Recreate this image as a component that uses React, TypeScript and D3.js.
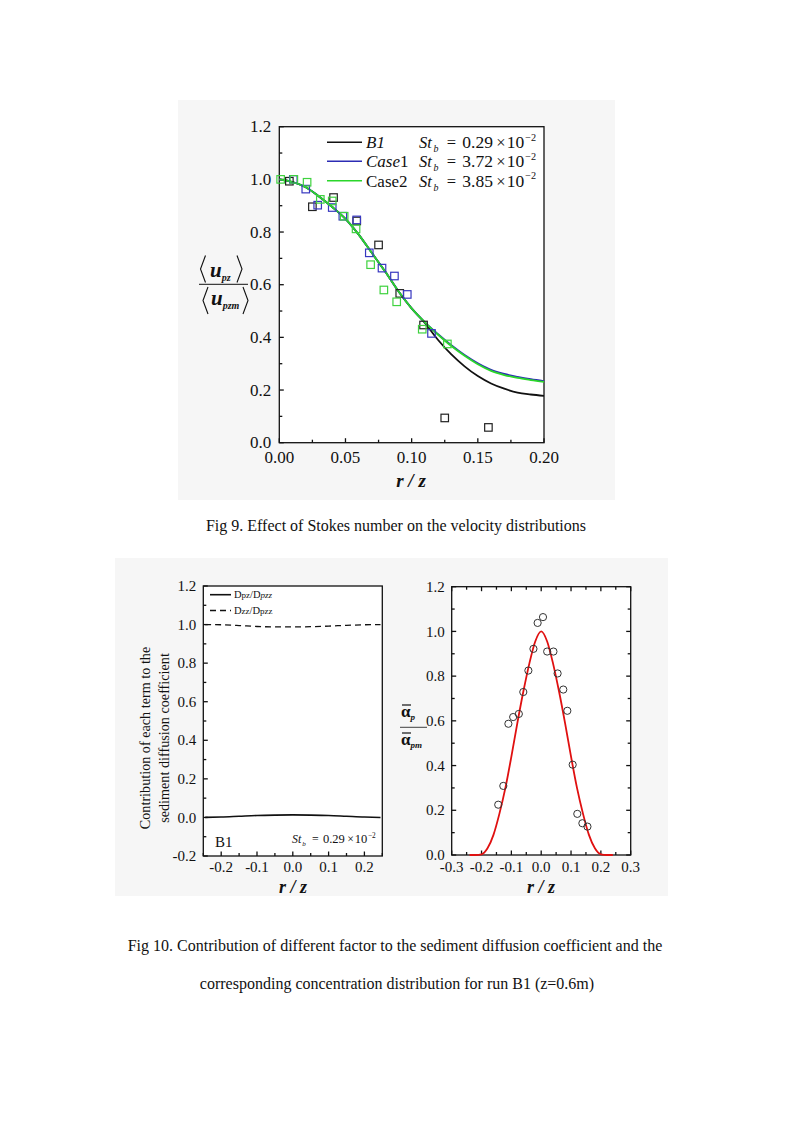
import * as d3 from "d3";

const W = 793;
const H = 1122;
const serif = "'Liberation Serif', 'Times New Roman', serif";

// ---------- Fig 9 data ----------
const fig9R = [0, 0.01, 0.02, 0.03, 0.04, 0.05, 0.06, 0.07, 0.08, 0.09, 0.1, 0.11, 0.12, 0.13, 0.14, 0.15, 0.16, 0.17, 0.18, 0.19, 0.2];
const b1Line = [1.0, 0.99, 0.97, 0.935, 0.895, 0.85, 0.79, 0.72, 0.65, 0.575, 0.51, 0.455, 0.39, 0.335, 0.29, 0.253, 0.225, 0.205, 0.19, 0.183, 0.178];
const case1Line = [1.0, 0.99, 0.97, 0.935, 0.895, 0.85, 0.79, 0.72, 0.65, 0.575, 0.51, 0.457, 0.412, 0.37, 0.333, 0.302, 0.277, 0.261, 0.25, 0.241, 0.234];
const case2Line = [1.0, 0.99, 0.97, 0.935, 0.895, 0.85, 0.79, 0.72, 0.65, 0.575, 0.51, 0.457, 0.41, 0.367, 0.33, 0.298, 0.273, 0.257, 0.246, 0.238, 0.231];

const b1PtsR = [0.0076, 0.025, 0.041, 0.0585, 0.075, 0.091, 0.109, 0.125, 0.158];
const b1PtsV = [0.993, 0.896, 0.931, 0.842, 0.751, 0.567, 0.447, 0.094, 0.058];
const case1PtsR = [0.0106, 0.02, 0.029, 0.04, 0.048, 0.0585, 0.068, 0.0776, 0.087, 0.0967, 0.115];
const case1PtsV = [1.0, 0.963, 0.902, 0.893, 0.86, 0.846, 0.721, 0.663, 0.633, 0.563, 0.415];
const case2PtsR = [0.001, 0.011, 0.021, 0.031, 0.04, 0.049, 0.058, 0.069, 0.079, 0.0887, 0.108, 0.127];
const case2PtsV = [1.0, 1.0, 0.989, 0.924, 0.918, 0.86, 0.812, 0.676, 0.58, 0.535, 0.431, 0.375];

const fig9XTicks = [0, 0.05, 0.1, 0.15, 0.2];
const fig9XLabels = ["0.00", "0.05", "0.10", "0.15", "0.20"];
const fig9YTicks = [0, 0.2, 0.4, 0.6, 0.8, 1.0, 1.2];
const fig9YLabels = ["0.0", "0.2", "0.4", "0.6", "0.8", "1.0", "1.2"];

// ---------- Fig 10 left data ----------
const contribR = [-0.245, -0.2, -0.15, -0.1, -0.05, 0, 0.05, 0.1, 0.15, 0.2, 0.245];
const dpzRatio = [0.0, 0.002, 0.006, 0.01, 0.012, 0.013, 0.012, 0.01, 0.006, 0.002, 0.0];
const dzzRatio = [1.0, 0.999, 0.995, 0.99, 0.988, 0.988, 0.989, 0.992, 0.996, 0.999, 1.0];
const leftXTicks = [-0.2, -0.1, 0, 0.1, 0.2];
const leftXLabels = ["-0.2", "-0.1", "0.0", "0.1", "0.2"];
const leftYTicks = [-0.2, 0, 0.2, 0.4, 0.6, 0.8, 1.0, 1.2];
const leftYLabels = ["-0.2", "0.0", "0.2", "0.4", "0.6", "0.8", "1.0", "1.2"];

// ---------- Fig 10 right data ----------
const fitR = [-0.24, -0.22, -0.2, -0.18, -0.16, -0.14, -0.12, -0.1, -0.08, -0.06, -0.04, -0.02, 0, 0.02, 0.04, 0.06, 0.08, 0.1, 0.12, 0.14, 0.16, 0.18, 0.2, 0.22, 0.24];
const fitV = [0, 0, 0.003, 0.03, 0.09, 0.185, 0.3, 0.44, 0.59, 0.73, 0.855, 0.955, 1.0, 0.955, 0.855, 0.73, 0.59, 0.44, 0.3, 0.185, 0.09, 0.03, 0.003, 0, 0];
const alphaR = [-0.144, -0.127, -0.11, -0.094, -0.075, -0.06, -0.043, -0.026, -0.012, 0.006, 0.02, 0.041, 0.055, 0.074, 0.0876, 0.1055, 0.121, 0.138, 0.155];
const alphaV = [0.225, 0.309, 0.587, 0.617, 0.631, 0.729, 0.825, 0.922, 1.038, 1.064, 0.91, 0.91, 0.812, 0.74, 0.645, 0.404, 0.184, 0.142, 0.127];
const rightXTicks = [-0.3, -0.2, -0.1, 0, 0.1, 0.2, 0.3];
const rightXLabels = ["-0.3", "-0.2", "-0.1", "0.0", "0.1", "0.2", "0.3"];
const rightYTicks = [0, 0.2, 0.4, 0.6, 0.8, 1.0, 1.2];
const rightYLabels = ["0.0", "0.2", "0.4", "0.6", "0.8", "1.0", "1.2"];

// scales
const x9 = d3.scaleLinear([0, 0.2], [279.3, 544]);
const y9 = d3.scaleLinear([0, 1.2], [442.7, 126.7]);
const xL = d3.scaleLinear([-0.25, 0.25], [203.3, 382.3]);
const yL = d3.scaleLinear([-0.2, 1.2], [856, 586]);
const xR = d3.scaleLinear([-0.3, 0.3], [451.7, 630.7]);
const yR = d3.scaleLinear([0, 1.2], [855, 586.7]);

type Sc = d3.ScaleLinear<number, number>;

function Frame({ x, y, xMajor, xLabels, xStep, yMajor, yLabels, yStep, mirror, fs, xLabelY, yLabelGap }: {
  x: Sc; y: Sc; xMajor: number[]; xLabels: string[]; xStep: number; yMajor: number[]; yLabels: string[]; yStep: number;
  mirror: boolean; fs: number; xLabelY: number; yLabelGap: number;
}) {
  const [x0, x1] = x.range();
  const [y0, y1] = y.range();
  const [dx0, dx1] = x.domain();
  const [dy0, dy1] = y.domain();
  const xMinor = d3.range(Math.round((dx1 - dx0) / xStep) + 1).map((i) => dx0 + i * xStep).filter((v) => !xMajor.some((m) => Math.abs(m - v) < 1e-9));
  const yMinor = d3.range(Math.round((dy1 - dy0) / yStep) + 1).map((i) => dy0 + i * yStep).filter((v) => !yMajor.some((m) => Math.abs(m - v) < 1e-9));
  const maj = 4.5;
  const mn = 3;
  return (
    <g stroke="#111" strokeWidth={1.3}>
      {xMajor.map((v) => <line key={"xM" + v} x1={x(v)} x2={x(v)} y1={y0} y2={y0 - maj} />)}
      {xMinor.map((v) => <line key={"xm" + v} x1={x(v)} x2={x(v)} y1={y0} y2={y0 - mn} />)}
      {yMajor.map((v) => <line key={"yM" + v} x1={x0} x2={x0 + maj} y1={y(v)} y2={y(v)} />)}
      {yMinor.map((v) => <line key={"ym" + v} x1={x0} x2={x0 + mn} y1={y(v)} y2={y(v)} />)}
      {mirror && xMajor.map((v) => <line key={"txM" + v} x1={x(v)} x2={x(v)} y1={y1} y2={y1 + maj} />)}
      {mirror && xMinor.map((v) => <line key={"txm" + v} x1={x(v)} x2={x(v)} y1={y1} y2={y1 + mn} />)}
      {mirror && yMajor.map((v) => <line key={"ryM" + v} x1={x1} x2={x1 - maj} y1={y(v)} y2={y(v)} />)}
      {mirror && yMinor.map((v) => <line key={"rym" + v} x1={x1} x2={x1 - mn} y1={y(v)} y2={y(v)} />)}
      <rect x={x0} y={y1} width={x1 - x0} height={y0 - y1} fill="none" />
      <g stroke="none" fill="#111" fontFamily={serif} fontSize={fs}>
        {xMajor.map((v, i) => (
          <text key={"xl" + v} x={x(v)} y={xLabelY} textAnchor="middle">{xLabels[i]}</text>
        ))}
        {yMajor.map((v, i) => (
          <text key={"yl" + v} x={x0 - yLabelGap} y={y(v)} dy="0.34em" textAnchor="end">{yLabels[i]}</text>
        ))}
      </g>
    </g>
  );
}

function Square({ cx, cy, color }: { cx: number; cy: number; color: string }) {
  const s = 7.5;
  return <rect x={cx - s / 2} y={cy - s / 2} width={s} height={s} fill="none" stroke={color} strokeWidth={1.2} />;
}

// St_b = value × 10^-2 with math-like spacing
function StLabel({ x, y, value, fs }: { x: number; y: number; value: string; fs: number }) {
  const k = fs / 16;
  return (
    <g fontFamily={serif} fontSize={fs} fill="#111">
      <text x={x} y={y} fontStyle="italic">St</text>
      <text x={x + 14 * k} y={y + 4 * k} fontStyle="italic" fontSize={fs * 0.6}>b</text>
      <text x={x + 27 * k} y={y}>=</text>
      <text x={x + 42 * k} y={y} fontSize={fs * 1.06}>{value}</text>
      <text x={x + 75 * k} y={y}>×</text>
      <text x={x + 85 * k} y={y} fontSize={fs * 1.06}>10</text>
      <text x={x + 103 * k} y={y - 7 * k} fontSize={fs * 0.62}>−2</text>
    </g>
  );
}

function Bracket({ x, y, h, dir }: { x: number; y: number; h: number; dir: number }) {
  // dir = 1 for "<", -1 for ">"
  const w = 5 * dir;
  return <path d={`M${x + w},${y - h / 2}L${x},${y}L${x + w},${y + h / 2}`} fill="none" stroke="#111" strokeWidth={1.1} />;
}

export default function App() {
  const line9 = (vals: number[]) => d3.line<number>((_, i) => x9(fig9R[i]), (d) => y9(d)).curve(d3.curveMonotoneX)(vals) as string;
  const lineL = (vals: number[]) => d3.line<number>((_, i) => xL(contribR[i]), (d) => yL(d)).curve(d3.curveMonotoneX)(vals) as string;
  const lineR = d3.line<number>((_, i) => xR(fitR[i]), (d) => yR(d)).curve(d3.curveMonotoneX)(fitV) as string;

  const black = "#111";
  const blue = "#2c2cb4";
  const green = "#2bd62b";

  return (
    <svg width={W} height={H} viewBox={`0 0 ${W} ${H}`} style={{ position: "absolute", left: 0, top: 0, background: "#fff" }}>
      {/* figure backgrounds */}
      <rect x={178} y={100} width={437} height={400} fill="#f6f6f6" />
      <rect x={115} y={558} width={553} height={338} fill="#f6f6f6" />

      {/* ---------- Fig 9 ---------- */}
      <rect x={x9(0)} y={y9(1.2)} width={x9(0.2) - x9(0)} height={y9(0) - y9(1.2)} fill="#fff" />
      <Frame x={x9} y={y9} xMajor={fig9XTicks} xLabels={fig9XLabels} xStep={0.025} yMajor={fig9YTicks} yLabels={fig9YLabels} yStep={0.1}
        mirror={false} fs={17} xLabelY={463} yLabelGap={8} />
      <path d={line9(b1Line)} fill="none" stroke={black} strokeWidth={1.8} />
      <path d={line9(case1Line)} fill="none" stroke={blue} strokeWidth={1.8} />
      <path d={line9(case2Line)} fill="none" stroke={green} strokeWidth={1.8} />
      {b1PtsR.map((r, i) => <Square key={"b" + i} cx={x9(r)} cy={y9(b1PtsV[i])} color="#222" />)}
      {case1PtsR.map((r, i) => <Square key={"c1" + i} cx={x9(r)} cy={y9(case1PtsV[i])} color="#3838c0" />)}
      {case2PtsR.map((r, i) => <Square key={"c2" + i} cx={x9(r)} cy={y9(case2PtsV[i])} color="#3fd23f" />)}

      {/* legend */}
      <line x1={327} x2={362} y1={142.3} y2={142.3} stroke={black} strokeWidth={1.6} />
      <line x1={327} x2={362} y1={161.3} y2={161.3} stroke={blue} strokeWidth={1.6} />
      <line x1={327} x2={362} y1={180.7} y2={180.7} stroke={green} strokeWidth={1.6} />
      <g fontFamily={serif} fontSize={17} fill="#111">
        <text x={366} y={148} fontStyle="italic">B1</text>
        <text x={366} y={167}><tspan fontStyle="italic">Case</tspan>1</text>
        <text x={366} y={186.5}>Case2</text>
      </g>
      <StLabel x={419} y={148} value="0.29" fs={16.5} />
      <StLabel x={419} y={167} value="3.72" fs={16.5} />
      <StLabel x={419} y={186.5} value="3.85" fs={16.5} />

      {/* y label fraction */}
      <line x1={199} x2={248} y1={284.3} y2={284.3} stroke="#111" strokeWidth={1} />
      <Bracket x={200.5} y={269} h={27} dir={1} />
      <Bracket x={242} y={269} h={27} dir={-1} />
      <text x={210} y={277} fontFamily={serif} fontSize={21} fontWeight="bold" fontStyle="italic" fill="#111">
        u<tspan fontSize={10} dy={4}>pz</tspan>
      </text>
      <Bracket x={203} y={300.5} h={27} dir={1} />
      <Bracket x={248} y={300.5} h={27} dir={-1} />
      <text x={211} y={305} fontFamily={serif} fontSize={21} fontWeight="bold" fontStyle="italic" fill="#111">
        u<tspan fontSize={10} dy={4}>pzm</tspan>
      </text>
      <text x={411} y={487} textAnchor="middle" fontFamily={serif} fontSize={19} fontWeight="bold" fontStyle="italic" fill="#111">r / z</text>

      <text x={396} y={531} textAnchor="middle" fontFamily={serif} fontSize={16} fill="#111">Fig 9. Effect of Stokes number on the velocity distributions</text>

      {/* ---------- Fig 10 left ---------- */}
      <rect x={xL(-0.25)} y={yL(1.2)} width={xL(0.25) - xL(-0.25)} height={yL(-0.2) - yL(1.2)} fill="#fff" />
      <Frame x={xL} y={yL} xMajor={leftXTicks} xLabels={leftXLabels} xStep={0.05} yMajor={leftYTicks} yLabels={leftYLabels} yStep={0.1}
        mirror={false} fs={15} xLabelY={872} yLabelGap={7} />
      <path d={lineL(dpzRatio)} fill="none" stroke="#111" strokeWidth={1.6} />
      <path d={lineL(dzzRatio)} fill="none" stroke="#111" strokeWidth={1.3} strokeDasharray="6,4" />
      <line x1={210} x2={231} y1={594.7} y2={594.7} stroke="#111" strokeWidth={1.6} />
      <line x1={210} x2={231} y1={610.5} y2={610.5} stroke="#111" strokeWidth={1.3} strokeDasharray="6,4" />
      <g fontFamily={serif} fontSize={10.5} fill="#111">
        <text x={234} y={598}>D<tspan fontSize={9}>pz</tspan>/D<tspan fontSize={9} fontStyle="italic">pzz</tspan></text>
        <text x={234} y={614}>D<tspan fontSize={9}>zz</tspan>/D<tspan fontSize={9}>pzz</tspan></text>
      </g>
      <text x={215} y={847} fontFamily={serif} fontSize={15} fill="#111">B1</text>
      <StLabel x={292} y={843} value="0.29" fs={11.8} />
      <g fontFamily={serif} fontSize={14.2} fill="#111" textAnchor="middle">
        <text transform="translate(149.5,738) rotate(-90)">Contribution of each term to the</text>
        <text transform="translate(168.5,738) rotate(-90)">sediment diffusion coefficient</text>
      </g>
      <text x={293} y={893} textAnchor="middle" fontFamily={serif} fontSize={18} fontWeight="bold" fontStyle="italic" fill="#111">r / z</text>

      {/* ---------- Fig 10 right ---------- */}
      <rect x={xR(-0.3)} y={yR(1.2)} width={xR(0.3) - xR(-0.3)} height={yR(0) - yR(1.2)} fill="#fff" />
      <Frame x={xR} y={yR} xMajor={rightXTicks} xLabels={rightXLabels} xStep={0.05} yMajor={rightYTicks} yLabels={rightYLabels} yStep={0.1}
        mirror={true} fs={15} xLabelY={872} yLabelGap={7} />
      <path d={lineR} fill="none" stroke="#e01010" strokeWidth={1.8} />
      {alphaR.map((r, i) => (
        <circle key={"a" + i} cx={xR(r)} cy={yR(alphaV[i])} r={3.6} fill="none" stroke="#333" strokeWidth={1} />
      ))}
      <g fontFamily={serif} fill="#111">
        <line x1={402} x2={411} y1={705} y2={705} stroke="#111" strokeWidth={1.2} />
        <text x={401} y={717} fontSize={17} fontWeight="bold">α<tspan fontSize={9} fontStyle="italic" dy={3}>p</tspan></text>
        <line x1={400} x2={427} y1={727.3} y2={727.3} stroke="#111" strokeWidth={0.8} />
        <line x1={402} x2={411} y1={733} y2={733} stroke="#111" strokeWidth={1.2} />
        <text x={401} y={745} fontSize={17} fontWeight="bold">α<tspan fontSize={9} fontStyle="italic" dy={3}>pm</tspan></text>
      </g>
      <text x={541} y={893} textAnchor="middle" fontFamily={serif} fontSize={18} fontWeight="bold" fontStyle="italic" fill="#111">r / z</text>

      {/* caption */}
      <g fontFamily={serif} fontSize={16} fill="#111" textAnchor="middle">
        <text x={395} y={951}>Fig 10. Contribution of different factor to the sediment diffusion coefficient and the</text>
        <text x={397} y={989}>corresponding concentration distribution for run B1 (z=0.6m)</text>
      </g>
    </svg>
  );
}
